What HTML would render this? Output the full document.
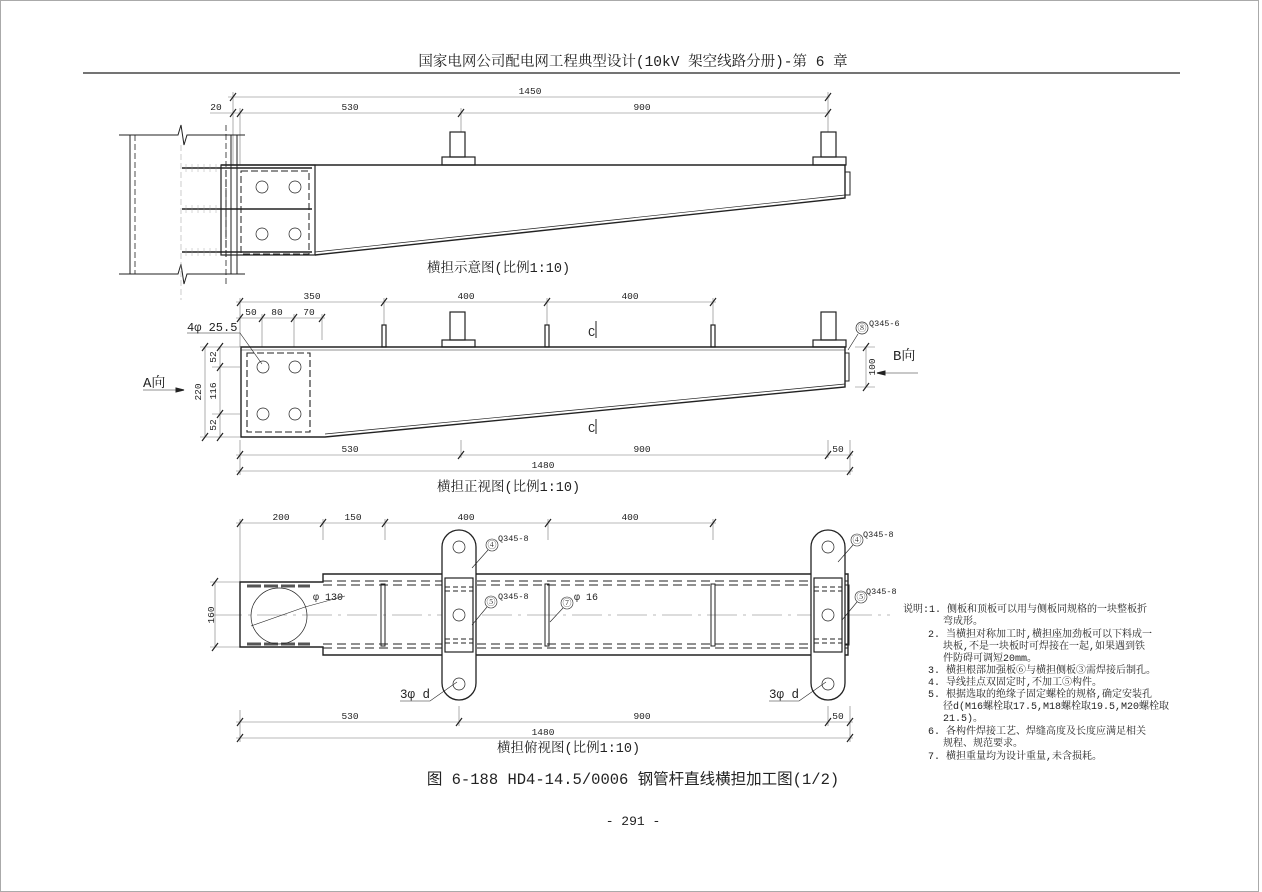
<!DOCTYPE html>
<html><head><meta charset="utf-8"><style>
html,body{margin:0;padding:0;background:#fff}
svg{display:block}
text{font-family:"Liberation Mono","Noto Serif CJK SC","Noto Sans CJK SC",monospace;fill:#222}
.s{font-family:"Liberation Mono","Noto Sans CJK SC",sans-serif}
</style></head><body>
<svg width="1262" height="892" viewBox="0 0 1262 892" xmlns="http://www.w3.org/2000/svg">
<rect x="0.5" y="0.5" width="1258" height="891" fill="none" stroke="#aaa" stroke-width="1"/>
<text x="633" y="66" font-size="14.5" text-anchor="middle">国家电网公司配电网工程典型设计(10kV 架空线路分册)-第 6 章</text>
<line x1="83" y1="73" x2="1180" y2="73" stroke="#222" stroke-width="1.2"/>

<g stroke="#222" fill="none">
<g stroke-width="0.6" stroke="#777">
<line x1="228" y1="97" x2="830" y2="97"/>
<line x1="210" y1="113" x2="830" y2="113"/>
<line x1="233" y1="92" x2="233" y2="165"/><line x1="240" y1="108" x2="240" y2="165"/>
<line x1="461" y1="108" x2="461" y2="132"/><line x1="828" y1="92" x2="828" y2="132"/>
</g>
<g stroke-width="1.2">
<line x1="230" y1="101" x2="236" y2="93"/><line x1="230" y1="117" x2="236" y2="109"/><line x1="237" y1="117" x2="243" y2="109"/>
<line x1="458" y1="117" x2="464" y2="109"/><line x1="825" y1="117" x2="831" y2="109"/><line x1="825" y1="101" x2="831" y2="93"/>
</g>
<path d="M119 135 H178 L181 125 L184 145 L187 135 H245" stroke-width="1"/>
<path d="M119 274 H178 L181 264 L184 284 L187 274 H245" stroke-width="1"/>
<line x1="130" y1="135" x2="130" y2="274" stroke-width="1"/>
<line x1="231" y1="135" x2="231" y2="274" stroke-width="1"/>
<line x1="237" y1="135" x2="237" y2="274" stroke-width="1"/>
<line x1="135" y1="135" x2="135" y2="274" stroke-dasharray="6,3" stroke-width="0.8"/>
<line x1="226" y1="125" x2="226" y2="285" stroke-dasharray="6,3" stroke-width="0.8"/>
<line x1="181" y1="145" x2="181" y2="300" stroke="#aaa" stroke-dasharray="6,3" stroke-width="0.6"/>
<g stroke-width="1.6"><line x1="182" y1="168" x2="312" y2="168"/><line x1="182" y1="209" x2="312" y2="209"/><line x1="182" y1="252" x2="312" y2="252"/></g>
<g stroke-width="0.4" stroke="#999">
<path d="M186 164v8M192 164v8M198 164v8M204 164v8M210 164v8M216 164v8M186 205v8M192 205v8M198 205v8M204 205v8M210 205v8M216 205v8M186 248v8M192 248v8M198 248v8M204 248v8M210 248v8M216 248v8"/>
</g>
<rect x="221" y="165" width="94" height="90" stroke-width="1.2"/>
<rect x="241" y="171" width="68" height="83" stroke-dasharray="7,3" stroke-width="1"/>
<line x1="226" y1="170" x2="226" y2="258" stroke-dasharray="7,3" stroke-width="1"/>
<path d="M221 165 H845 V198 L315 255" stroke-width="1.4"/>
<path d="M315 252 L845 195" stroke-width="0.7"/>
<rect x="845" y="172" width="5" height="23" stroke-width="1"/>
<g stroke-width="0.7"><circle cx="262" cy="187" r="6"/><circle cx="295" cy="187" r="6"/><circle cx="262" cy="234" r="6"/><circle cx="295" cy="234" r="6"/></g>
<g stroke-width="1.2">
<rect x="450" y="132" width="15" height="25"/><rect x="442" y="157" width="33" height="8"/>
<rect x="821" y="132" width="15" height="25"/><rect x="813" y="157" width="33" height="8"/>
</g>

<g stroke-width="0.6" stroke="#777">
<line x1="236" y1="302" x2="716" y2="302"/>
<line x1="236" y1="318" x2="325" y2="318"/>
<line x1="240" y1="298" x2="240" y2="347"/><line x1="262" y1="314" x2="262" y2="347"/><line x1="294" y1="314" x2="294" y2="347"/><line x1="322" y1="314" x2="322" y2="340"/>
<line x1="384" y1="298" x2="384" y2="325"/><line x1="547" y1="298" x2="547" y2="325"/><line x1="713" y1="298" x2="713" y2="325"/>
<line x1="205" y1="347" x2="205" y2="437"/><line x1="220" y1="347" x2="220" y2="437"/>
<line x1="200" y1="347" x2="240" y2="347"/><line x1="212" y1="367" x2="240" y2="367"/><line x1="212" y1="414" x2="240" y2="414"/><line x1="200" y1="437" x2="240" y2="437"/>
<line x1="236" y1="455" x2="853" y2="455"/><line x1="236" y1="471" x2="853" y2="471"/>
<line x1="240" y1="440" x2="240" y2="475"/><line x1="461" y1="440" x2="461" y2="458"/><line x1="850" y1="440" x2="850" y2="475"/><line x1="828" y1="440" x2="828" y2="458"/>
<line x1="866" y1="347" x2="866" y2="387"/><line x1="855" y1="347" x2="875" y2="347"/><line x1="855" y1="387" x2="875" y2="387"/>
</g>
<g stroke-width="1.2">
<path d="M237 306l6-8M381 306l6-8M544 306l6-8M710 306l6-8M237 322l6-8M259 322l6-8M291 322l6-8M319 322l6-8"/>
<path d="M202 351l6-8M202 441l6-8M217 351l6-8M217 371l6-8M217 418l6-8M217 441l6-8"/>
<path d="M237 459l6-8M458 459l6-8M825 459l6-8M847 459l6-8M237 475l6-8M847 475l6-8"/>
<path d="M863 351l6-8M863 391l6-8"/>
</g>
<path d="M241 347 H845 V387 L325 437 H241 Z" stroke-width="1.4"/>
<path d="M325 434 L845 384" stroke-width="0.7"/>
<line x1="241" y1="350" x2="845" y2="350" stroke-width="0.6"/>
<rect x="845" y="353" width="4" height="28" stroke-width="1"/>
<rect x="247" y="353" width="63" height="79" stroke-dasharray="7,3" stroke-width="1.1"/>
<g stroke-width="0.7"><circle cx="263" cy="367" r="6"/><circle cx="295" cy="367" r="6"/><circle cx="263" cy="414" r="6"/><circle cx="295" cy="414" r="6"/></g>
<g stroke-width="1.2">
<rect x="382" y="325" width="4" height="22"/><rect x="545" y="325" width="4" height="22"/><rect x="711" y="325" width="4" height="22"/>
<rect x="450" y="312" width="15" height="28"/><rect x="442" y="340" width="33" height="7"/>
<rect x="821" y="312" width="15" height="28"/><rect x="813" y="340" width="33" height="7"/>
</g>
<path d="M187 333 H240 L262 364" stroke-width="0.6"/>
<path d="M143 390 H176" stroke-width="0.6"/><path d="M176 388 L184 390 L176 392Z" fill="#222"/>
<path d="M885 373 H918" stroke-width="0.6"/><path d="M885 371 L877 373 L885 375Z" fill="#222"/>
<path d="M596 321 V338 M596 419 V434" stroke-width="1"/>
<circle cx="862" cy="328" r="6" stroke-width="0.7"/><line x1="858" y1="334" x2="848" y2="350" stroke-width="0.6"/>

<g stroke-width="0.6" stroke="#777">
<line x1="236" y1="523" x2="716" y2="523"/>
<line x1="240" y1="519" x2="240" y2="582"/><line x1="323" y1="519" x2="323" y2="540"/><line x1="385" y1="519" x2="385" y2="540"/><line x1="548" y1="519" x2="548" y2="540"/><line x1="713" y1="519" x2="713" y2="540"/>
<line x1="215" y1="582" x2="215" y2="647"/><line x1="210" y1="582" x2="240" y2="582"/><line x1="210" y1="647" x2="240" y2="647"/>
<line x1="236" y1="722" x2="853" y2="722"/><line x1="236" y1="738" x2="853" y2="738"/>
<line x1="240" y1="710" x2="240" y2="742"/><line x1="459" y1="706" x2="459" y2="726"/><line x1="828" y1="706" x2="828" y2="726"/><line x1="850" y1="706" x2="850" y2="742"/>
<line x1="212" y1="615" x2="890" y2="615" stroke-dasharray="30,6,3,6"/>
</g>
<g stroke-width="1.2">
<path d="M237 527l6-8M320 527l6-8M382 527l6-8M545 527l6-8M710 527l6-8"/>
<path d="M212 586l6-8M212 651l6-8"/>
<path d="M237 726l6-8M456 726l6-8M825 726l6-8M847 726l6-8M237 742l6-8M847 742l6-8"/>
</g>
<path d="M240 582 H323 V574 H848 V655 H323 V647 H240 Z" stroke-width="1.4"/>
<g stroke-dasharray="9,5" stroke-width="1.1">
<line x1="323" y1="581" x2="848" y2="581"/><line x1="323" y1="585" x2="848" y2="585"/>
<line x1="323" y1="644" x2="848" y2="644"/><line x1="323" y1="648" x2="848" y2="648"/>
</g>
<g stroke-width="3" stroke="#555" stroke-dasharray="14,3"><line x1="247" y1="586" x2="310" y2="586"/><line x1="247" y1="644" x2="310" y2="644"/></g>
<g stroke-width="1"><rect x="381" y="584" width="4" height="62"/><rect x="545" y="584" width="4" height="62"/><rect x="711" y="584" width="4" height="62"/></g>
<circle cx="279" cy="616" r="28" stroke-width="0.7"/>
<line x1="251" y1="626" x2="305" y2="607" stroke-width="0.6"/><line x1="305" y1="607" x2="345" y2="596" stroke-width="0.6"/>
<rect x="442" y="530" width="34" height="170" rx="17" stroke-width="1.3" fill="#fff"/>
<rect x="811" y="530" width="34" height="170" rx="17" stroke-width="1.3" fill="#fff"/>
<rect x="445" y="578" width="28" height="74" stroke-width="1.2"/>
<rect x="814" y="578" width="28" height="74" stroke-width="1.2"/>
<rect x="845" y="585" width="4" height="60" stroke-width="1"/>
<g stroke-dasharray="5,3" stroke-width="0.9"><path d="M445 587H473M445 591H473M445 639H473M445 643H473M814 587H842M814 591H842M814 639H842M814 643H842"/></g>
<g stroke-width="0.7"><circle cx="459" cy="547" r="6"/><circle cx="459" cy="615" r="6"/><circle cx="459" cy="684" r="6"/><circle cx="828" cy="547" r="6"/><circle cx="828" cy="615" r="6"/><circle cx="828" cy="684" r="6"/></g>
<g stroke-width="0.6">
<circle cx="492" cy="545" r="6"/><line x1="488" y1="550" x2="472" y2="568"/>
<circle cx="491" cy="602" r="6"/><line x1="487" y1="607" x2="472" y2="625"/>
<circle cx="567" cy="603" r="6"/><line x1="563" y1="608" x2="550" y2="622"/>
<circle cx="857" cy="540" r="6"/><line x1="853" y1="545" x2="838" y2="562"/>
<circle cx="861" cy="597" r="6"/><line x1="857" y1="602" x2="842" y2="620"/>
<path d="M400 701 H430 L457 682"/><path d="M769 701 H799 L826 682"/>
</g>
</g>

<g font-size="9.5" text-anchor="middle">
<text x="216" y="110">20</text><text x="350" y="110">530</text><text x="642" y="110">900</text><text x="530" y="94">1450</text>
<text x="312" y="299">350</text><text x="466" y="299">400</text><text x="630" y="299">400</text>
<text x="251" y="315">50</text><text x="277" y="315">80</text><text x="309" y="315">70</text>
<text x="350" y="452">530</text><text x="642" y="452">900</text><text x="838" y="452">50</text><text x="543" y="468">1480</text>
<text x="281" y="520">200</text><text x="353" y="520">150</text><text x="466" y="520">400</text><text x="630" y="520">400</text>
<text x="350" y="719">530</text><text x="642" y="719">900</text><text x="838" y="719">50</text><text x="543" y="735">1480</text>
<text transform="translate(201,392) rotate(-90)">220</text>
<text transform="translate(216,357) rotate(-90)">52</text>
<text transform="translate(216,391) rotate(-90)">116</text>
<text transform="translate(216,425) rotate(-90)">52</text>
<text transform="translate(875,367) rotate(-90)">100</text>
<text transform="translate(214,615) rotate(-90)">160</text>
</g>
<g font-size="8.5">
<text x="869" y="326">Q345-6</text><text x="498" y="541">Q345-8</text><text x="498" y="599">Q345-8</text>
<text x="863" y="537">Q345-8</text><text x="866" y="594">Q345-8</text>
<text x="313" y="600" font-size="10">φ 130</text><text x="574" y="600" font-size="10">φ 16</text>
</g>
<g font-size="9" text-anchor="middle">
<text x="862" y="331">⑧</text><text x="492" y="548">④</text><text x="491" y="605">⑤</text><text x="567" y="606">⑦</text><text x="857" y="543">④</text><text x="861" y="600">⑤</text>
</g>
<text x="187" y="331" font-size="12">4φ 25.5</text>
<text x="143" y="387" font-size="14">A向</text>
<text x="893" y="360" font-size="14">B向</text>
<text x="588" y="336" font-size="12">C</text><text x="588" y="432" font-size="12">C</text>
<text x="400" y="698" font-size="12.5">3φ d</text><text x="769" y="698" font-size="12.5">3φ d</text>
<g font-size="13.5">
<text x="427" y="272">横担示意图(比例1:10)</text>
<text x="437" y="491">横担正视图(比例1:10)</text>
<text x="497" y="752">横担俯视图(比例1:10)</text>
</g>
<text x="633" y="784" font-size="15.5" text-anchor="middle" class="s">图 6-188  HD4-14.5/0006 钢管杆直线横担加工图(1/2)</text>
<text x="633" y="825" font-size="13" text-anchor="middle">- 291 -</text>
<g font-size="10">
<text x="903" y="612">说明:1. 侧板和顶板可以用与侧板同规格的一块整板折</text>
<text x="943" y="624">弯成形。</text>
<text x="928" y="637">2. 当横担对称加工时,横担座加劲板可以下料成一</text>
<text x="943" y="649">块板,不是一块板时可焊接在一起,如果遇到铁</text>
<text x="943" y="661">件防碍可调短20mm。</text>
<text x="928" y="673">3. 横担根部加强板⑥与横担侧板③需焊接后制孔。</text>
<text x="928" y="685">4. 导线挂点双固定时,不加工⑤构件。</text>
<text x="928" y="697">5. 根据选取的绝缘子固定螺栓的规格,确定安装孔</text>
<text x="943" y="709">径d(M16螺栓取17.5,M18螺栓取19.5,M20螺栓取</text>
<text x="943" y="721">21.5)。</text>
<text x="928" y="734">6. 各构件焊接工艺、焊缝高度及长度应满足相关</text>
<text x="943" y="746">规程、规范要求。</text>
<text x="928" y="759">7. 横担重量均为设计重量,未含损耗。</text>
</g>
</svg>
</body></html>
